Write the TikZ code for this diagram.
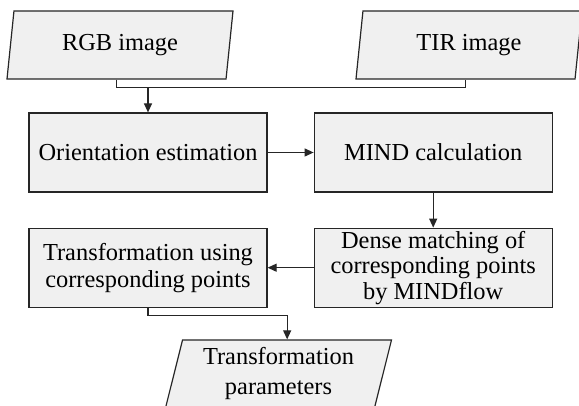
\documentclass[tikz,border=0pt]{standalone}
\usepackage{fontspec}
\setmainfont{Liberation Serif}
\usetikzlibrary{positioning}
\usetikzlibrary{arrows.meta}
\usetikzlibrary{shapes.geometric}

\tikzset{
    procbox/.style={draw=black!85, line width=0.6pt, fill=black!6, minimum width=119pt, minimum height=39.5pt, align=center, inner sep=0pt},
    databox/.style={trapezium, trapezium left angle=72, trapezium right angle=108, trapezium stretches body, draw=black!85, line width=0.6pt, fill=black!6, minimum width=113pt, minimum height=34pt, align=center, inner sep=0pt},
    flow/.style={draw=black!85, line width=0.6pt, -{Triangle[length=4.5pt, width=4pt]}},
    joint/.style={draw=black!85, line width=0.6pt}
}

\begin{document}
\begin{tikzpicture}[node distance=17.5pt and 23pt, font=\fontsize{12.2pt}{13.5pt}\selectfont]
    \useasboundingbox (0,0) rectangle (289.5pt,-203pt);

    \node[procbox] (orient) at (74pt,-76.25pt) {Orientation estimation};
    \node[procbox, right=of orient] (mind) {MIND calculation};
    \node[procbox, below=of orient] (transform) {Transformation using \\ corresponding points};
    \node[procbox, below=of mind, font=\fontsize{12.2pt}{12.8pt}\selectfont] (dense) {Dense matching of \\ corresponding points \\ by MINDflow};

    \node[databox] (rgb) at (60pt,-22.5pt) {RGB image};
    \node[databox] (tir) at (234.5pt,-22.5pt) {TIR image};
    \node[databox, font=\fontsize{12.2pt}{15pt}\selectfont] (params) at (139.25pt,-187pt) {Transformation \\ parameters};

    \coordinate (merge) at ([yshift=-4pt]rgb.bottom side);
    \coordinate (split) at ([yshift=-4pt]transform.south);

    \draw[joint] (rgb.bottom side) -- (merge) -| (tir.bottom side);
    \draw[flow] (orient.north |- merge) -- (orient.north);
    \draw[flow] (orient) -- (mind);
    \draw[flow] (mind) -- (dense);
    \draw[flow] (dense) -- (transform);
    \draw[joint] (transform.south) -- (split) -| ([yshift=6pt]params.top side);
    \draw[flow] ([yshift=6pt]params.top side) -- (params.top side);
\end{tikzpicture}
\end{document}
